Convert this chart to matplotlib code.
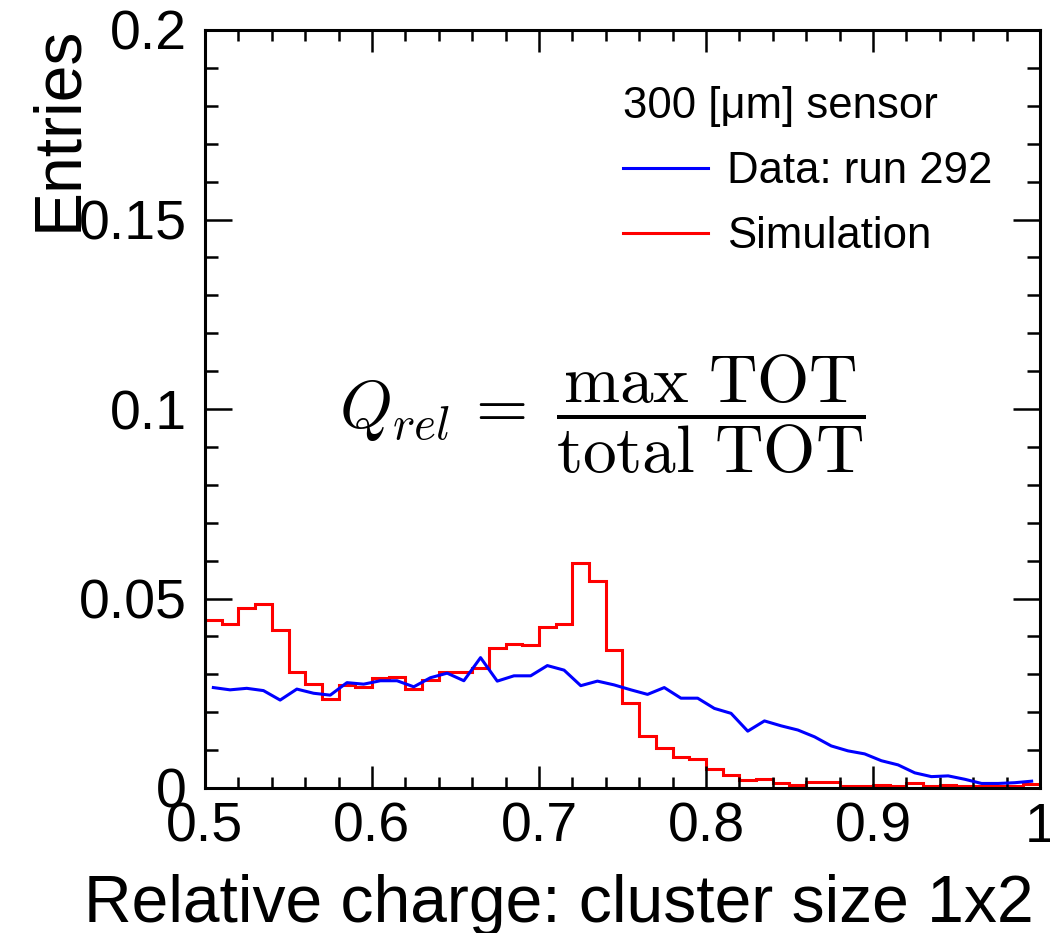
import numpy as np
import matplotlib
matplotlib.use("Agg")
import matplotlib.pyplot as plt

plt.rcParams['font.family'] = ['Liberation Sans', 'DejaVu Sans']
plt.rcParams['mathtext.fontset'] = 'cm'

# relative charge bins (0.01 wide, 0.5 -> 1.0)
edges = np.round(np.arange(0.5, 1.0001, 0.01), 2)
centers = edges[:-1] + 0.005

# data: run 292 (drawn as polyline at bin centres)
data_run292 = [0.0265, 0.0259, 0.0263, 0.0257, 0.0232, 0.0261, 0.0250, 0.0245, 0.0278, 0.0274,
               0.0283, 0.0283, 0.0267, 0.0291, 0.0303, 0.0283, 0.0344, 0.0282, 0.0296, 0.0296,
               0.0323, 0.0311, 0.0270, 0.0282, 0.0272, 0.0259, 0.0247, 0.0265, 0.0237, 0.0237,
               0.0210, 0.0197, 0.0150, 0.0177, 0.0164, 0.0153, 0.0135, 0.0111, 0.0098, 0.0090,
               0.0072, 0.0061, 0.0040, 0.0030, 0.0032, 0.0023, 0.0012, 0.0012, 0.0014, 0.0018]

# simulation histogram
simulation = [0.0443, 0.0433, 0.0474, 0.0485, 0.0417, 0.0307, 0.0274, 0.0234, 0.0272, 0.0267,
              0.0289, 0.0294, 0.0262, 0.0285, 0.0307, 0.0305, 0.0317, 0.0370, 0.0380, 0.0378,
              0.0424, 0.0434, 0.0593, 0.0547, 0.0364, 0.0223, 0.0137, 0.0105, 0.0083, 0.0076,
              0.0049, 0.0033, 0.0021, 0.0023, 0.0012, 0.0007, 0.0015, 0.0015, 0.0005, 0.0005,
              0.0007, 0.0005, 0.0012, 0.0005, 0.0007, 0.0005, 0.0005, 0.0005, 0.0005, 0.0010]

fig = plt.figure(figsize=(10.5, 9.33), dpi=100)
ax = fig.add_axes([205/1050, 1-788/933, 835/1050, 758/933])

ax.plot(centers, data_run292, color='#0000ff', lw=2.2, label='Data: run 292')
ax.stairs(simulation, edges, color='#ff0000', lw=2.2, baseline=0, label='Simulation')

ax.set_xlim(0.5, 1.0)
ax.set_ylim(0, 0.2)
ax.set_xticks([0.5, 0.6, 0.7, 0.8, 0.9, 1.0])
ax.set_xticklabels(['0.5', '0.6', '0.7', '0.8', '0.9', '1'])
ax.set_xticks(np.arange(0.5, 1.0001, 0.02), minor=True)
ax.set_yticks([0, 0.05, 0.1, 0.15, 0.2])
ax.set_yticklabels(['0', '0.05', '0.1', '0.15', '0.2'])
ax.set_yticks(np.arange(0, 0.2001, 0.01), minor=True)

for s in ax.spines.values():
    s.set_linewidth(2.2)
ax.tick_params(which='both', direction='in', top=True, right=True, width=1.8, labelsize=40)
ax.tick_params(axis='x', which='major', length=16, pad=10)
ax.tick_params(axis='x', which='minor', length=8)
ax.tick_params(axis='y', which='major', length=19.5, pad=13)
ax.tick_params(axis='y', which='minor', length=9.5)

fig.text(1034/1050, 1-922/933, 'Relative charge: cluster size 1x2',
         ha='right', va='baseline', fontsize=47.5)
fig.text(90/1050, 1-26/933, 'Entries', rotation=90, ha='right', va='top', fontsize=47.5)

ax.text(0.738, 0.0985, r'$Q_{rel}\,=\;\dfrac{\max\ \mathrm{TOT}}{\mathrm{total\ TOT}}$',
        ha='center', va='center', fontsize=48.5)

leg = ax.legend(title='300 [\u03bcm] sensor', loc='upper left', bbox_to_anchor=(0.474, 0.955),
                frameon=False, fontsize=31.5, title_fontsize=31.5, handlelength=1.95,
                handletextpad=0.44, labelspacing=0.55, alignment='left', borderpad=0)
for h in leg.get_lines():
    h.set_linewidth(2.2)

fig.savefig('out.png', dpi=100)
